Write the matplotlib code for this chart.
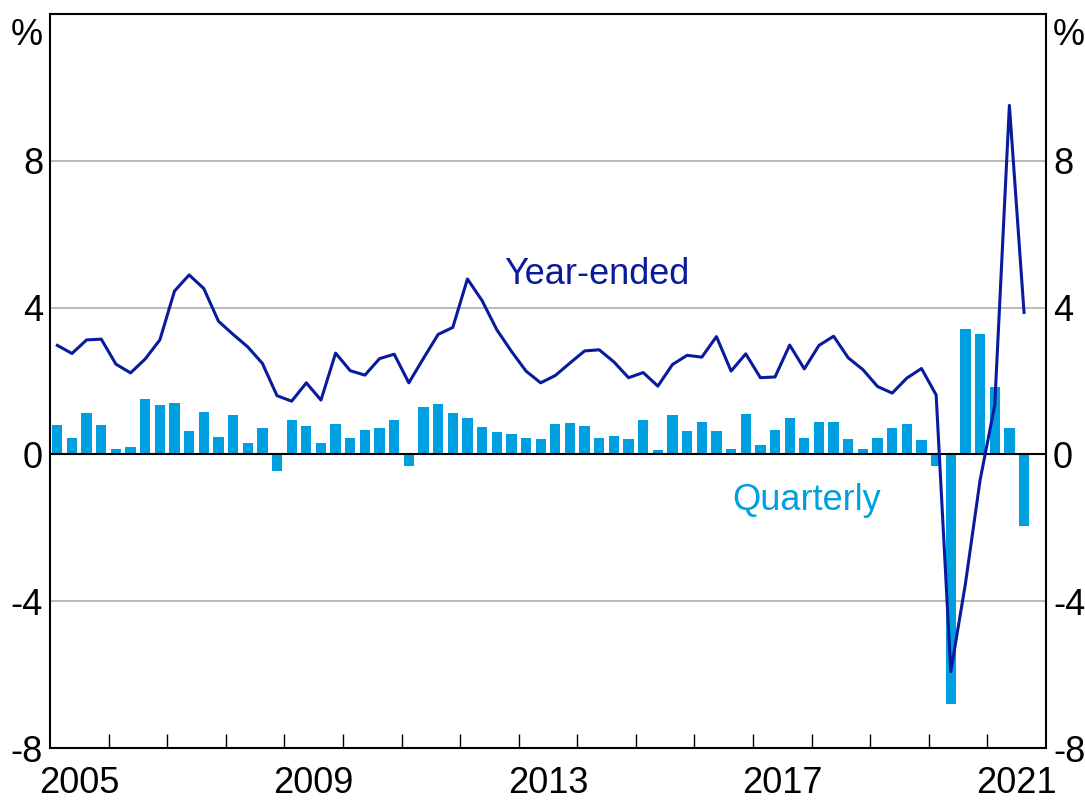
import numpy as np
import matplotlib.pyplot as plt

plt.rcParams['font.family'] = ['Liberation Sans', 'DejaVu Sans']

# quarterly and year-ended growth, 2005 Q1 to 2021 Q3 (per cent)
start_year = 2005
quarterly = [0.79, 0.45, 1.14, 0.81, 0.15, 0.21, 1.52, 1.34, 1.41, 0.64,
             1.16, 0.47, 1.07, 0.32, 0.73, -0.46, 0.94, 0.77, 0.31, 0.82,
             0.45, 0.67, 0.73, 0.95, -0.32, 1.29, 1.37, 1.14, 0.98, 0.75,
             0.62, 0.55, 0.45, 0.43, 0.82, 0.85, 0.78, 0.45, 0.50, 0.42,
             0.94, 0.12, 1.07, 0.65, 0.88, 0.65, 0.16, 1.10, 0.26, 0.66,
             0.98, 0.46, 0.87, 0.88, 0.42, 0.15, 0.44, 0.72, 0.82, 0.40,
             -0.32, -6.80, 3.43, 3.28, 1.84, 0.72, -1.94]
year_ended = [2.97, 2.75, 3.12, 3.14, 2.46, 2.22, 2.60, 3.12, 4.45, 4.89,
              4.52, 3.63, 3.27, 2.93, 2.48, 1.60, 1.45, 1.95, 1.48, 2.76,
              2.28, 2.16, 2.61, 2.73, 1.95, 2.62, 3.27, 3.46, 4.78, 4.19,
              3.40, 2.81, 2.27, 1.95, 2.15, 2.49, 2.82, 2.85, 2.52, 2.09,
              2.23, 1.86, 2.45, 2.70, 2.65, 3.21, 2.27, 2.74, 2.09, 2.11,
              2.98, 2.33, 2.97, 3.22, 2.63, 2.31, 1.85, 1.67, 2.08, 2.34,
              1.62, -5.92, -3.52, -0.70, 1.34, 9.51, 3.87]
year_labels = ['2005', '2009', '2013', '2017', '2021']
y_ticks = [-8, -4, 0, 4, 8]

line_color = '#0a1a9c'
bar_color = '#00a0e0'
fsize = 26

# quarter mid-points in fractional years
x = start_year + (np.arange(len(quarterly)) + 0.5) / 4

fig = plt.figure(figsize=(10.85, 8), dpi=100)
ax = fig.add_axes([50 / 1085, 52 / 800, 996 / 1085, 734 / 800])
ax.set_xlim(2005, 2022)
ax.set_ylim(-8, 12)

# horizontal grid
for yv in y_ticks:
    if yv not in (0, -8):
        ax.axhline(yv, color='#b4b4b4', lw=1.3, zorder=0)

ax.bar(x, quarterly, width=0.25 * 0.7, color=bar_color, zorder=2)
ax.axhline(0, color='black', lw=1.5, zorder=3)
ax.plot(x, year_ended, color=line_color, lw=2.2, zorder=4)

ax.text(2014.33, 4.65, 'Year-ended', color=line_color, ha='center',
        va='baseline', fontsize=fsize)
ax.text(2017.92, -1.52, 'Quarterly', color=bar_color, ha='center',
        va='baseline', fontsize=fsize)

# x axis: year ticks inside, labels centred in the year
ax.set_xticks(np.arange(2006, 2022), minor=True)
ax.set_xticks([int(s) + 0.5 for s in year_labels])
ax.set_xticklabels(year_labels)
ax.tick_params(axis='x', which='minor', direction='in', length=10,
               width=1.0, color='black')
ax.tick_params(axis='x', which='major', length=0, pad=13, labelsize=fsize)

# y axis on both sides
ax.set_yticks(y_ticks)
ax.set_yticklabels([str(v) for v in y_ticks])
ax.tick_params(axis='y', which='major', length=0, pad=5, labelsize=fsize,
               left=True, right=True, labelleft=True, labelright=True)

ax.annotate('%', xy=(0, 1), xycoords='axes fraction', xytext=(-5, -3),
            textcoords='offset points', ha='right', va='top', fontsize=fsize)
ax.annotate('%', xy=(1, 1), xycoords='axes fraction', xytext=(5, -3),
            textcoords='offset points', ha='left', va='top', fontsize=fsize)

for sp in ax.spines.values():
    sp.set_linewidth(1.5)
    sp.set_color('black')

fig.savefig('out.png', dpi=100)
